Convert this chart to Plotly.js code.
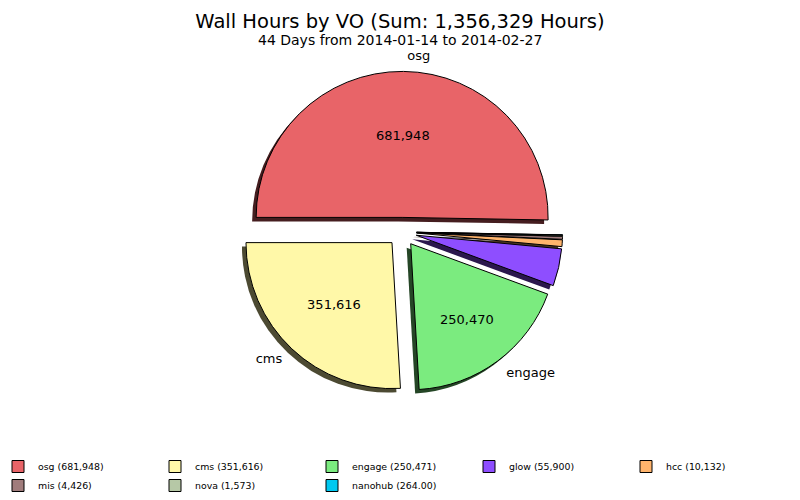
<!DOCTYPE html>
<html>
<head>
<meta charset="utf-8">
<script src="https://cdn.plot.ly/plotly-3.0.1.min.js"></script>
<style>
  body { margin: 0; background: #fff; }
  #chart { width: 800px; height: 500px; }
</style>
</head>
<body>
<div id="chart"></div>
<script>
// wall hours per VO, 2014-01-14 .. 2014-02-27
var vos = ['osg', 'cms', 'engage', 'glow', 'hcc', 'mis', 'nova', 'nanohub'];
var hours = [681948, 351616, 250470, 55900, 10132, 4426, 1573, 264];
var legendText = ['osg (681,948)', 'cms (351,616)', 'engage (250,471)', 'glow (55,900)',
                  'hcc (10,132)', 'mis (4,426)', 'nova (1,573)', 'nanohub (264.00)'];
var sliceText = ['681,948', '351,616', '250,470', '', '', '', '', ''];
var outerText = ['osg', 'cms', 'engage', '', '', '', '', ''];
var colors = ['#e86468', '#fff8a8', '#7beb7f', '#8e4eff', '#ffb46c', '#a07c7c', '#b6c8a6', '#00c8f0'];
var shadowColors = ['#451d1f', '#4c4a32', '#254626', '#2b174d', '#4c3620', '#302525', '#373c32', '#003c48'];

var fnt = 'DejaVu Sans, sans-serif';
var pulls = vos.map(function () { return 0.1; });

// pie box in px, center (402,232), radius 146 (plus pull)
function box(cx, cy, r) {
  var h = r * 1.1;
  return { x: [(cx - h) / 800, (cx + h) / 800], y: [(500 - cy - h) / 500, (500 - cy + h) / 500] };
}
var dom = box(402, 232, 146);
var sdom = box(398, 236, 146);   // shadow, shifted down-left
var ldom = box(402, 232, 146 * 1.05); // invisible pie carrying the outer labels

// blank line lifts the big value a little, like matplotlib's pctdistance
var innerTpl = sliceText.map(function (t, i) { return i === 0 ? '%{text}<br> ' : '%{text}'; });

var common = {
  type: 'pie',
  values: hours,
  labels: legendText,
  sort: false,
  direction: 'counterclockwise',
  rotation: -90,
  pull: pulls,
  hoverinfo: 'none'
};

var shadow = Object.assign({}, common, {
  domain: sdom,
  marker: { colors: shadowColors, line: { width: 0 } },
  textinfo: 'none',
  showlegend: false
});

var main = Object.assign({}, common, {
  domain: dom,
  marker: { colors: colors, line: { color: '#000', width: 1 } },
  text: sliceText,
  texttemplate: innerTpl,
  textposition: 'inside',
  insidetextorientation: 'horizontal',
  textfont: { family: fnt, size: 13, color: '#000' }
});

var outer = Object.assign({}, common, {
  domain: ldom,
  marker: { colors: vos.map(function () { return 'rgba(0,0,0,0)'; }), line: { width: 0 } },
  text: outerText,
  texttemplate: '%{text}',
  textposition: 'outside',
  outsidetextfont: { family: fnt, size: 13, color: '#000' },
  showlegend: false
});

var layout = {
  width: 800,
  height: 500,
  margin: { l: 0, r: 0, t: 0, b: 0 },
  paper_bgcolor: '#fff',
  font: { family: fnt, color: '#000' },
  title: {
    text: 'Wall Hours by VO (Sum: 1,356,329 Hours)',
    font: { family: fnt, size: 19.5 },
    x: 0.5,
    xanchor: 'center',
    y: 1 - 21 / 500,
    yanchor: 'middle'
  },
  annotations: [{
    text: '44 Days from 2014-01-14 to 2014-02-27',
    xref: 'paper', yref: 'paper',
    x: 0.5, y: 1 - 40 / 500,
    xanchor: 'center', yanchor: 'middle',
    showarrow: false,
    font: { family: fnt, size: 14 }
  }],
  legend: {
    orientation: 'h',
    x: 0,
    xanchor: 'left',
    y: 0.0,
    yanchor: 'bottom',
    indentation: -2,
    font: { family: fnt, size: 9.4 },
    entrywidth: 114,
    entrywidthmode: 'pixels',
    itemclick: false
  }
};

Plotly.newPlot('chart', [shadow, main, outer], layout, { displayModeBar: false, staticPlot: true });
</script>
</body>
</html>
